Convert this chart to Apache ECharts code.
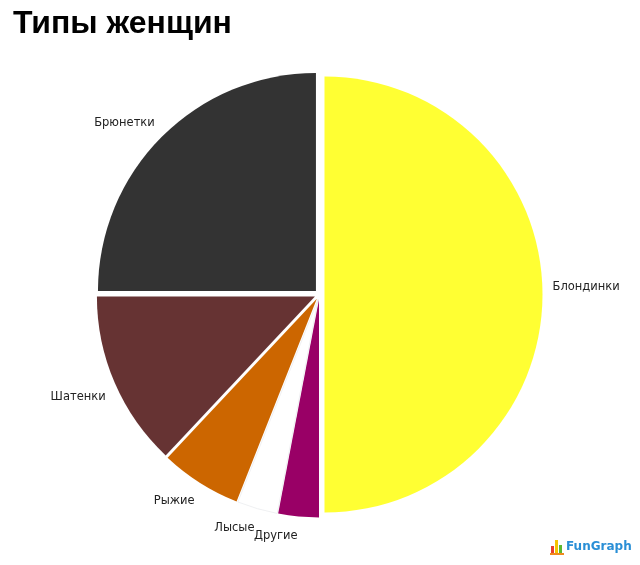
<!DOCTYPE html>
<html>
<head>
<meta charset="utf-8">
<script src="https://cdn.jsdelivr.net/npm/echarts@6/dist/echarts.min.js"></script>
<style>html,body{margin:0;padding:0;background:#fff;}#chart{width:640px;height:565px;}</style>
</head>
<body>
<div id="chart"></div>
<script>
const titleText = 'Типы женщин';
const categories = ['Блондинки', 'Другие', 'Лысые', 'Рыжие', 'Шатенки', 'Брюнетки'];
const values = [50, 3, 3, 6, 13, 25];
const colors = ['#ffff33', '#990066', '#ffffff', '#cc6600', '#663333', '#333333'];

const CX = 319.5, CY = 294.5, R = 218, LABEL_GAP = 15, EXPLODE = 5;
const total = values.reduce((a, b) => a + b, 0);
const midAngles = [];
let acc = 0;
values.forEach(v => { midAngles.push((acc + v / 2) / total * 2 * Math.PI); acc += v; });

function labelLayout(p) {
  const a = midAngles[p.dataIndex];
  const ux = Math.sin(a), uy = -Math.cos(a);
  const d = R + LABEL_GAP;
  return {
    x: CX + d * ux,
    y: CY + d * uy,
    dy: uy > 0 ? 4 : -1,
    align: ux < 0 ? 'right' : 'left',
    verticalAlign: uy > 0 ? 'top' : 'bottom'
  };
}

// one pie per slice, each pushed out along its own mid-angle (exploded pie)
const series = categories.map((cat, i) => ({
  type: 'pie',
  silent: true,
  center: [CX + EXPLODE * Math.sin(midAngles[i]), CY - EXPLODE * Math.cos(midAngles[i])],
  radius: [0, R],
  startAngle: 90,
  clockwise: true,
  avoidLabelOverlap: false,
  emphasis: {disabled: true},
  label: {show: false, position: 'outside', color: '#222', fontFamily: 'DejaVu Sans', fontSize: 11.5},
  labelLine: {show: false},
  labelLayout: labelLayout,
  data: categories.map((name, j) => ({
    name: name,
    value: values[j],
    label: {show: j === i},
    itemStyle: j === i
      ? {color: colors[j], borderColor: j === 2 ? '#e4e6ea' : colors[j], borderWidth: j === 2 ? 0.6 : 0}
      : {color: 'rgba(0,0,0,0)', borderWidth: 0}
  }))
}));

const chart = echarts.init(document.getElementById('chart'), null, {renderer: 'canvas'});
chart.setOption({
  animation: false,
  backgroundColor: '#ffffff',
  title: {
    text: titleText,
    left: 8,
    top: 3,
    textStyle: {fontFamily: 'Liberation Sans', fontWeight: 'bold', fontSize: 32, color: '#000'}
  },
  graphic: [
    {type: 'rect', left: 551, top: 546, shape: {width: 3, height: 7}, style: {fill: '#e8412c'}},
    {type: 'rect', left: 555, top: 540, shape: {width: 3, height: 13}, style: {fill: '#f5c400'}},
    {type: 'rect', left: 559, top: 545, shape: {width: 3, height: 8}, style: {fill: '#5cb82e'}},
    {type: 'rect', left: 550, top: 553, shape: {width: 14, height: 2}, style: {fill: '#f08a1c'}},
    {type: 'text', left: 566, top: 541, style: {text: 'FunGraph', fill: '#2a8fd6', font: 'bold 12px "DejaVu Sans"'}}
  ],
  series: series
});
</script>
</body>
</html>
